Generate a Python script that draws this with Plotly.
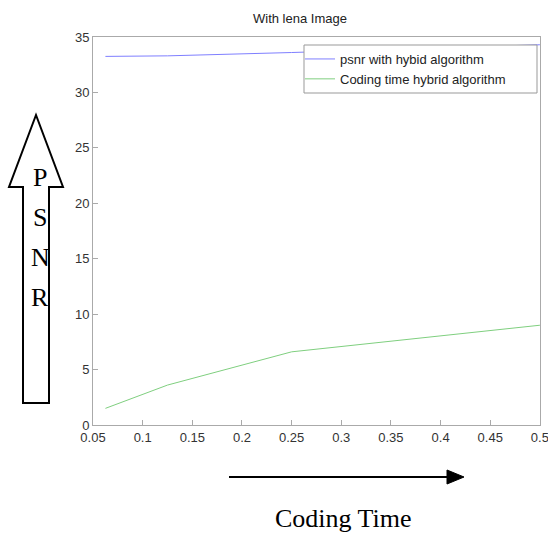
import plotly.graph_objects as go

rates = [0.0625, 0.125, 0.25, 0.5]
psnr = [33.25, 33.3, 33.6, 34.3]
coding_time = [1.5, 3.6, 6.6, 9.0]
x_ticks = [0.05, 0.1, 0.15, 0.2, 0.25, 0.3, 0.35, 0.4, 0.45, 0.5]
x_labels = ["0.05", "0.1", "0.15", "0.2", "0.25", "0.3", "0.35", "0.4", "0.45", "0.5"]
y_ticks = [0, 5, 10, 15, 20, 25, 30, 35]

W, H = 548, 533
L, R, T, B = 93, 8, 37, 108
pw, ph = W - L - R, H - T - B

def px(x):
    return (x - L) / pw

def py(y):
    return (H - B - y) / ph

fig = go.Figure()
fig.add_trace(go.Scatter(x=rates, y=psnr, mode="lines", name="psnr with hybid algorithm",
                         line=dict(color="#7f7fff", width=1)))
fig.add_trace(go.Scatter(x=rates, y=coding_time, mode="lines", name="Coding time hybrid algorithm",
                         line=dict(color="#7fcf7f", width=1)))

axis_common = dict(showgrid=False, zeroline=False, showline=True, linecolor="#aaaaaa",
                   linewidth=1, mirror=True, ticks="inside", ticklen=5, tickcolor="#aaaaaa",
                   ticklabeloverflow="allow", automargin=False,
                   tickfont=dict(family="Liberation Sans, Arial", size=13, color="#333333"))

# hollow up arrow
arrow_pts = [(23, 403), (49, 403), (49, 187), (63, 187), (36, 115), (9, 187), (23, 187)]
path = "M " + " L ".join(f"{px(a)},{py(b)}" for a, b in arrow_pts) + " Z"
shapes = [
    dict(type="path", xref="paper", yref="paper", path=path,
         line=dict(color="black", width=2), fillcolor="white"),
    dict(type="line", xref="paper", yref="paper", x0=px(229), y0=py(477), x1=px(450), y1=py(477),
         line=dict(color="black", width=2)),
    dict(type="path", xref="paper", yref="paper",
         path=f"M {px(447)},{py(470)} L {px(464)},{py(477)} L {px(447)},{py(484)} Z",
         line=dict(color="black", width=1), fillcolor="black"),
    # legend box
    dict(type="rect", xref="paper", yref="paper", x0=px(304), y0=py(45), x1=px(537), y1=py(93),
         line=dict(color="#999999", width=1), fillcolor="white", layer="above"),
]

annotations = [
    dict(text="With lena Image", x=px(300), y=py(19), xref="paper", yref="paper",
         xanchor="center", yanchor="middle",
         showarrow=False, font=dict(family="Liberation Sans, Arial", size=13, color="#222222")),
    dict(text="Coding Time", x=px(343), y=py(518), xref="paper", yref="paper",
         xanchor="center", yanchor="middle",
         showarrow=False, font=dict(family="Liberation Serif, Times New Roman", size=26, color="black")),
]
for i, ch in enumerate("PSNR"):
    annotations.append(dict(text=ch, x=px(40), y=py(177 + 40 * i), xref="paper", yref="paper",
                            xanchor="center", yanchor="middle",
                            showarrow=False,
                            font=dict(family="Liberation Serif, Times New Roman", size=26, color="black")))

fig.update_layout(
    width=W, height=H, margin=dict(l=L, r=R, t=T, b=B, autoexpand=False),
    paper_bgcolor="white", plot_bgcolor="white",
    xaxis=dict(range=[0.05, 0.5001], tickvals=x_ticks, ticktext=x_labels, **axis_common),
    yaxis=dict(range=[0, 35], tickvals=y_ticks, **axis_common),
    legend=dict(x=px(300), y=py(44), xanchor="left", yanchor="top",
                borderwidth=0, bgcolor="rgba(0,0,0,0)",
                font=dict(family="Liberation Sans, Arial", size=13, color="#222222"),
                tracegroupgap=0),
    shapes=shapes, annotations=annotations, showlegend=True,
)

fig.write_html("out.html")
